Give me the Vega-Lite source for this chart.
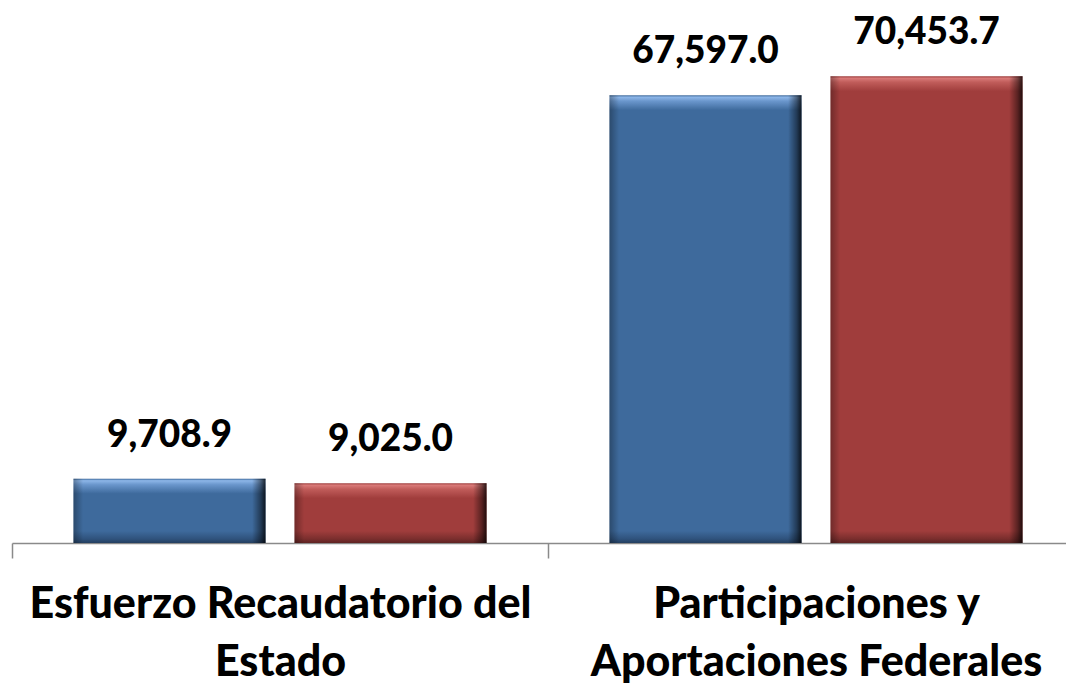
{
  "$schema": "https://vega.github.io/schema/vega-lite/v6.json",
  "autosize": {"type": "none"},
  "padding": {"left": 12, "top": 13, "right": 0, "bottom": 141},
  "width": 1054,
  "height": 530,
  "background": "white",
  "config": {"view": {"stroke": null}},
  "data": {"values": [
    {"id": 1, "cat": "Esfuerzo Recaudatorio del Estado", "serie": "Serie 1", "valor": 9708.9},
    {"id": 2, "cat": "Esfuerzo Recaudatorio del Estado", "serie": "Serie 2", "valor": 9025.0},
    {"id": 3, "cat": "Participaciones y Aportaciones Federales", "serie": "Serie 1", "valor": 67597.0},
    {"id": 4, "cat": "Participaciones y Aportaciones Federales", "serie": "Serie 2", "valor": 70453.7}
  ]},
  "encoding": {
    "x": {
      "field": "cat", "type": "nominal", "sort": null,
      "scale": {"range": [0, 1072], "paddingInner": 0, "paddingOuter": 0},
      "axis": {
        "title": null, "labelAngle": 0, "tickBand": "extent", "tickSize": 15,
        "tickColor": "#8a8a8a", "domainColor": "#8a8a8a", "tickWidth": 1.5, "domainWidth": 1.5,
        "labelFont": "Lato", "labelFontSize": 43, "labelFontWeight": 900, "labelColor": "#000000",
        "labelLineHeight": 58, "labelBaseline": "alphabetic", "labelPadding": 59, "labelLimit": 0,
        "labelExpr": "datum.value == 'Esfuerzo Recaudatorio del Estado' ? ['Esfuerzo Recaudatorio del', 'Estado'] : (datum.value == 'Participaciones y Aportaciones Federales' ? ['Participaciones y', 'Aportaciones Federales'] : '')"
      }
    },
    "xOffset": {"field": "serie", "type": "nominal", "scale": {"paddingInner": 0.131, "paddingOuter": 0.278}},
    "y": {"field": "valor", "type": "quantitative", "scale": {"domain": [0, 80000]}, "axis": null}
  },
  "layer": [
    {
      "transform": [{"filter": "datum.id == 1"}],
      "mark": {"type": "bar", "color": {"gradient": "linear", "x1": 0, "y1": 0, "x2": 0, "y2": 1, "stops": [
        {"offset": 0, "color": "#3a6596"}, {"offset": 0.031, "color": "#8db6e8"}, {"offset": 0.093, "color": "#6a96cc"},
        {"offset": 0.233, "color": "#3e6a9c"}, {"offset": 0.813, "color": "#3e6a9c"}, {"offset": 0.938, "color": "#2f527c"}, {"offset": 1, "color": "#243f60"}]}}
    },
    {
      "transform": [{"filter": "datum.id == 2"}],
      "mark": {"type": "bar", "color": {"gradient": "linear", "x1": 0, "y1": 0, "x2": 0, "y2": 1, "stops": [
        {"offset": 0, "color": "#9a3a39"}, {"offset": 0.033, "color": "#d97a78"}, {"offset": 0.1, "color": "#c05c5a"},
        {"offset": 0.251, "color": "#a03d3c"}, {"offset": 0.799, "color": "#a03d3c"}, {"offset": 0.933, "color": "#7a2e2d"}, {"offset": 1, "color": "#5e2322"}]}}
    },
    {
      "transform": [{"filter": "datum.id == 3"}],
      "mark": {"type": "bar", "color": {"gradient": "linear", "x1": 0, "y1": 0, "x2": 0, "y2": 1, "stops": [
        {"offset": 0, "color": "#3a6596"}, {"offset": 0.0045, "color": "#8db6e8"}, {"offset": 0.0134, "color": "#6a96cc"},
        {"offset": 0.0335, "color": "#3e6a9c"}, {"offset": 0.973, "color": "#3e6a9c"}, {"offset": 0.991, "color": "#2f527c"}, {"offset": 1, "color": "#243f60"}]}}
    },
    {
      "transform": [{"filter": "datum.id == 4"}],
      "mark": {"type": "bar", "color": {"gradient": "linear", "x1": 0, "y1": 0, "x2": 0, "y2": 1, "stops": [
        {"offset": 0, "color": "#9a3a39"}, {"offset": 0.0043, "color": "#d97a78"}, {"offset": 0.0129, "color": "#c05c5a"},
        {"offset": 0.0321, "color": "#a03d3c"}, {"offset": 0.974, "color": "#a03d3c"}, {"offset": 0.991, "color": "#7a2e2d"}, {"offset": 1, "color": "#5e2322"}]}}
    },
    {
      "mark": {"type": "bar", "color": {"gradient": "linear", "x1": 0, "y1": 0, "x2": 1, "y2": 0, "stops": [
        {"offset": 0, "color": "rgba(0,0,0,0.3)"}, {"offset": 0.05, "color": "rgba(0,0,0,0)"},
        {"offset": 0.93, "color": "rgba(0,0,0,0)"}, {"offset": 0.975, "color": "rgba(0,0,0,0.45)"}, {"offset": 1, "color": "rgba(0,0,0,0.8)"}]}}
    },
    {
      "mark": {"type": "text", "font": "Lato", "fontSize": 37, "fontWeight": 900, "color": "#000000", "baseline": "alphabetic", "dy": -32},
      "encoding": {"text": {"field": "valor", "type": "quantitative", "format": ",.1f"}}
    }
  ]
}
